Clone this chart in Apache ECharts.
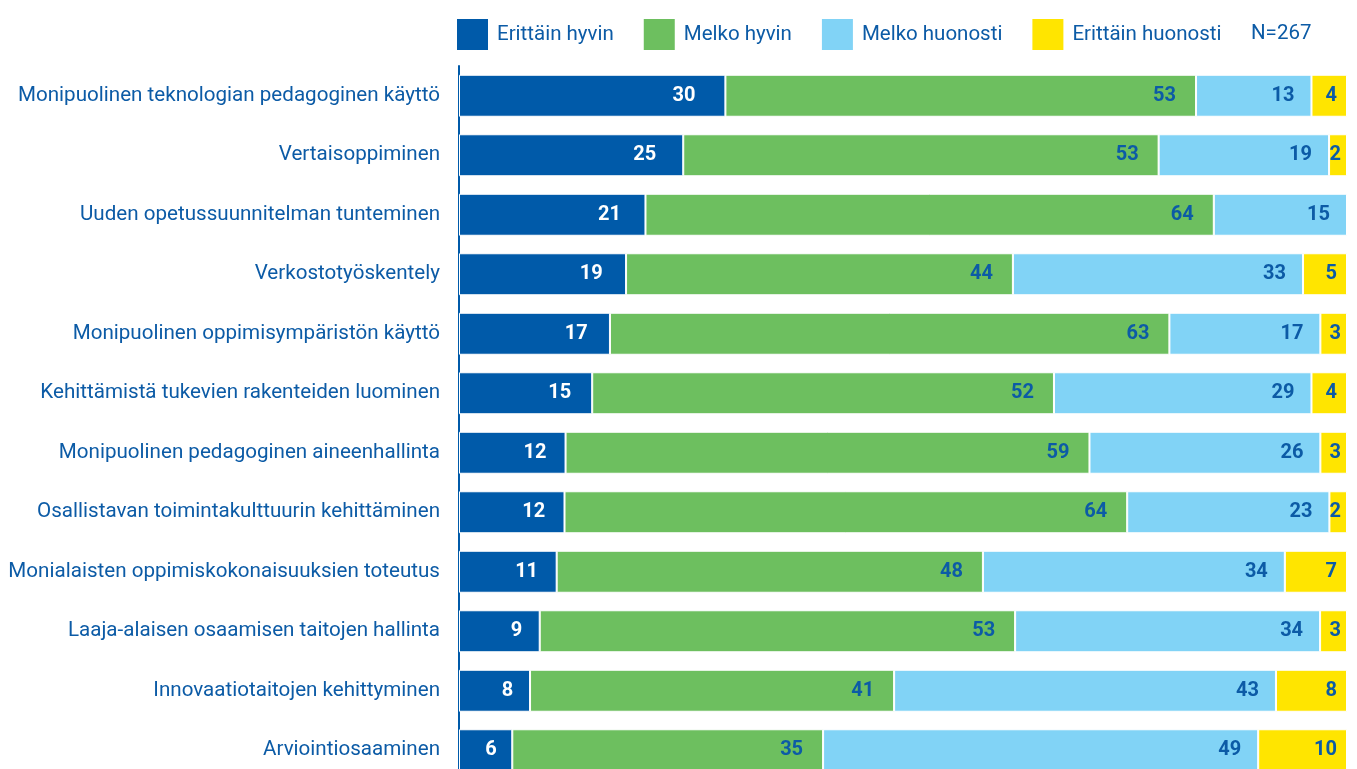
<!DOCTYPE html>
<html>
<head>
<meta charset="utf-8">
<script src="https://cdn.jsdelivr.net/npm/echarts@6/dist/echarts.min.js"></script>
<style>
  html, body { margin: 0; padding: 0; background: #fff; overflow: hidden; }
  #chart { width: 1357px; height: 780px; }
</style>
</head>
<body>
<div id="chart"></div>
<script>
const categories = [
  'Monipuolinen teknologian pedagoginen käyttö',
  'Vertaisoppiminen',
  'Uuden opetussuunnitelman tunteminen',
  'Verkostotyöskentely',
  'Monipuolinen oppimisympäristön käyttö',
  'Kehittämistä tukevien rakenteiden luominen',
  'Monipuolinen pedagoginen aineenhallinta',
  'Osallistavan toimintakulttuurin kehittäminen',
  'Monialaisten oppimiskokonaisuuksien toteutus',
  'Laaja-alaisen osaamisen taitojen hallinta',
  'Innovaatiotaitojen kehittyminen',
  'Arviointiosaaminen'
]
const seriesNames = ['Erittäin hyvin', 'Melko hyvin', 'Melko huonosti', 'Erittäin huonosti']
const erittainHyvin = [30, 25, 21, 19, 17, 15, 12, 12, 11, 9, 8, 6]
const melkoHyvin = [53, 53, 64, 44, 63, 52, 59, 64, 48, 53, 41, 35]
const melkoHuonosti = [13, 19, 15, 33, 17, 29, 26, 23, 34, 34, 43, 49]
const erittainHuonosti = [4, 2, null, 5, 3, 4, 3, 2, 7, 3, 8, 10]
const nLabel = 'N=267'

const colors = ['#005aa9', '#6dbf5f', '#81d3f6', '#ffe500']
const textBlue = '#0c5ba6'
const labelColors = ['#ffffff', textBlue, textBlue, textBlue]
const raw = [erittainHyvin, melkoHyvin, melkoHuonosti, erittainHuonosti]

// rivit skaalataan 100 %:iin, näytetään alkuperäiset luvut
const totals = categories.map((c, i) => raw.reduce((s, arr) => s + (arr[i] || 0), 0))

// labelin etäisyys palkin päästä
function labelDistance(k, v) {
  if (k === 0) return 12 + v * 0.6
  if (k === 1) return 20
  if (k === 2) return 17
  return v <= 3 ? 6 : 10
}

const chart = echarts.init(document.getElementById('chart'))
const option = {
  animation: false,
  color: colors,
  textStyle: { fontFamily: 'Roboto' },
  legend: {
    data: seriesNames,
    left: 450,
    top: 12,
    itemWidth: 33,
    itemHeight: 33,
    itemGap: 28,
    icon: 'rect',
    selectedMode: false,
    textStyle: { color: textBlue, fontSize: 20.5, fontFamily: 'Roboto', padding: [0, 0, 0, 3] }
  },
  graphic: [{
    type: 'text',
    left: 1251,
    top: 23,
    style: { text: nLabel, fill: textBlue, fontSize: 20.5, fontFamily: 'Roboto' }
  }],
  // kuvio jatkuu ikkunan alareunan yli
  grid: { left: 459, right: 10, top: 66, bottom: 0, containLabel: false },
  xAxis: {
    type: 'value',
    min: 0,
    max: 100,
    show: false
  },
  yAxis: {
    type: 'category',
    data: categories,
    inverse: true,
    axisLine: { show: true, lineStyle: { color: '#005aa9', width: 2 } },
    axisTick: { show: false },
    axisLabel: { color: textBlue, fontSize: 20.6, margin: 19, fontFamily: 'Roboto' }
  },
  series: seriesNames.map((name, k) => ({
    name: name,
    type: 'bar',
    stack: 'total',
    barWidth: 42,
    itemStyle: { borderColor: '#ffffff', borderWidth: 1 },
    label: {
      show: true,
      position: 'insideRight',
      color: labelColors[k],
      fontSize: 20,
      fontWeight: 'bold',
      fontFamily: 'Roboto',
      formatter: p => raw[k][p.dataIndex]
    },
    data: raw[k].map((v, i) => v == null ? null : {
      value: v / totals[i] * 100,
      label: { distance: labelDistance(k, v) }
    })
  }))
}
chart.setOption(option)
</script>
</body>
</html>
